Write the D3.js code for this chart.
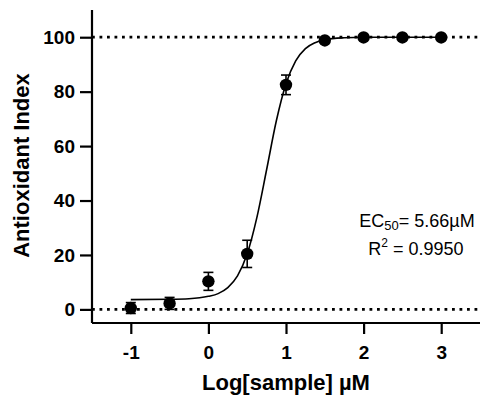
<!DOCTYPE html>
<html>
<head>
<meta charset="utf-8">
<script src="https://cdn.jsdelivr.net/npm/d3@7"></script>
<style>
  html, body { margin: 0; padding: 0; background: #fff; }
  svg { display: block; }
  text { font-family: "Liberation Sans", Arial, Helvetica, sans-serif; fill: #000; }
</style>
</head>
<body>
<svg id="chart" width="484" height="396"></svg>
<script>
// ---- data ----
const logConc = [-1, -0.5, 0, 0.5, 1, 1.5, 2, 2.5, 3];
const meanIndex = [0.5, 2.2, 10.3, 20.4, 82.5, 98.8, 99.9, 99.9, 99.9];
const semIndex = [2.0, 2.2, 3.3, 5.0, 3.6, 0.6, 0.4, 0.4, 0.4];
// fitted curve
const fitX = [-1, -0.5, -0.25, 0, 0.125, 0.25, 0.375, 0.5, 0.625, 0.75, 0.875, 1, 1.125, 1.25, 1.375, 1.5, 1.75, 2, 2.5, 3];
const fitY = [3.6, 3.7, 3.9, 4.8, 5.8, 8.0, 12.3, 20.4, 33.8, 51.3, 69.2, 82.9, 91.3, 95.8, 98.0, 99.1, 99.8, 100, 100, 100];
const refLines = [0, 100];
const xTicks = [-1, 0, 1, 2, 3];
const xTickLabels = ["-1", "0", "1", "2", "3"];
const yTicks = [0, 20, 40, 60, 80, 100];
const xTitle = "Log[sample] µM";
const yTitle = "Antioxidant Index";
const ec50Text = { main: "EC", sub: "50", rest: "= 5.66µM" };
const r2Text = { main: "R", sup: "2", rest: " = 0.9950" };

// ---- layout ----
const svg = d3.select("#chart");
const x = d3.scaleLinear().domain([-1.5, 3.5]).range([92, 480]);
const y = d3.scaleLinear().domain([-5, 110]).range([323, 10]);

// dotted reference lines
svg.append("g").selectAll("line").data(refLines).join("line")
  .attr("x1", x(-1.5)).attr("x2", x(3.5))
  .attr("y1", d => y(d)).attr("y2", d => y(d))
  .attr("stroke", "#000").attr("stroke-width", 2.8)
  .attr("stroke-dasharray", "2.8,4.7");

// axes
const xAxis = svg.append("g").attr("transform", `translate(0,${y(-5)})`)
  .call(d3.axisBottom(x).tickValues(xTicks).tickFormat((d, i) => xTickLabels[i]).tickSize(11).tickPadding(12).tickSizeOuter(0));
const yAxis = svg.append("g").attr("transform", `translate(${x(-1.5)},0)`)
  .call(d3.axisLeft(y).tickValues(yTicks).tickSize(12).tickPadding(5).tickSizeOuter(0));

[xAxis, yAxis].forEach(g => {
  g.select(".domain").attr("stroke", "#000").attr("stroke-width", 2.2);
  g.selectAll(".tick line").attr("stroke", "#000").attr("stroke-width", 2.2);
  g.selectAll(".tick text").attr("font-size", 19).attr("font-weight", "bold")
    .attr("font-family", "Liberation Sans, Arial, sans-serif").attr("fill", "#000");
});
xAxis.select(".domain").attr("d", `M${x(-1.5)},0H${x(3.5)}`);
yAxis.select(".domain").attr("d", `M0,${y(110)}V${y(-5)}`);

// axis titles
svg.append("text").attr("x", (x(-1.5) + x(3.5)) / 2).attr("y", 390)
  .attr("text-anchor", "middle").attr("font-size", 22).attr("font-weight", "bold")
  .text(xTitle);
svg.append("text").attr("transform", `translate(29,${(y(110)+y(-5))/2 - 1}) rotate(-90)`)
  .attr("text-anchor", "middle").attr("font-size", 22).attr("font-weight", "bold")
  .text(yTitle);

// fit curve
const fitData = fitX.map((v, i) => [v, fitY[i]]);
svg.append("path").datum(fitData)
  .attr("fill", "none").attr("stroke", "#000").attr("stroke-width", 1.6)
  .attr("d", d3.line().x(d => x(d[0])).y(d => y(d[1])).curve(d3.curveMonotoneX));

// error bars
const pts = logConc.map((v, i) => ({ x: v, m: meanIndex[i], e: semIndex[i] }));
const eb = svg.append("g").attr("stroke", "#000").attr("stroke-width", 1.6);
eb.selectAll("line.v").data(pts).join("line").attr("class", "v")
  .attr("x1", d => x(d.x)).attr("x2", d => x(d.x))
  .attr("y1", d => y(d.m - d.e)).attr("y2", d => y(d.m + d.e));
eb.selectAll("line.t").data(pts).join("line").attr("class", "t")
  .attr("x1", d => x(d.x) - 5).attr("x2", d => x(d.x) + 5)
  .attr("y1", d => y(d.m + d.e)).attr("y2", d => y(d.m + d.e));
eb.selectAll("line.b").data(pts).join("line").attr("class", "b")
  .attr("x1", d => x(d.x) - 5).attr("x2", d => x(d.x) + 5)
  .attr("y1", d => y(d.m - d.e)).attr("y2", d => y(d.m - d.e));

// markers
svg.append("g").selectAll("circle").data(pts).join("circle")
  .attr("cx", d => x(d.x)).attr("cy", d => y(d.m)).attr("r", 6.2).attr("fill", "#000");

// annotations
const t1 = svg.append("text").attr("x", 417).attr("y", 227).attr("text-anchor", "middle").attr("font-size", 18);
t1.append("tspan").text(ec50Text.main);
t1.append("tspan").attr("font-size", 13).attr("dy", 3).text(ec50Text.sub);
t1.append("tspan").attr("dy", -3).text(ec50Text.rest);
const t2 = svg.append("text").attr("x", 416).attr("y", 255).attr("text-anchor", "middle").attr("font-size", 18);
t2.append("tspan").text(r2Text.main);
t2.append("tspan").attr("font-size", 12).attr("dy", -8).text(r2Text.sup);
t2.append("tspan").attr("dy", 8).text(r2Text.rest);
</script>
</body>
</html>
